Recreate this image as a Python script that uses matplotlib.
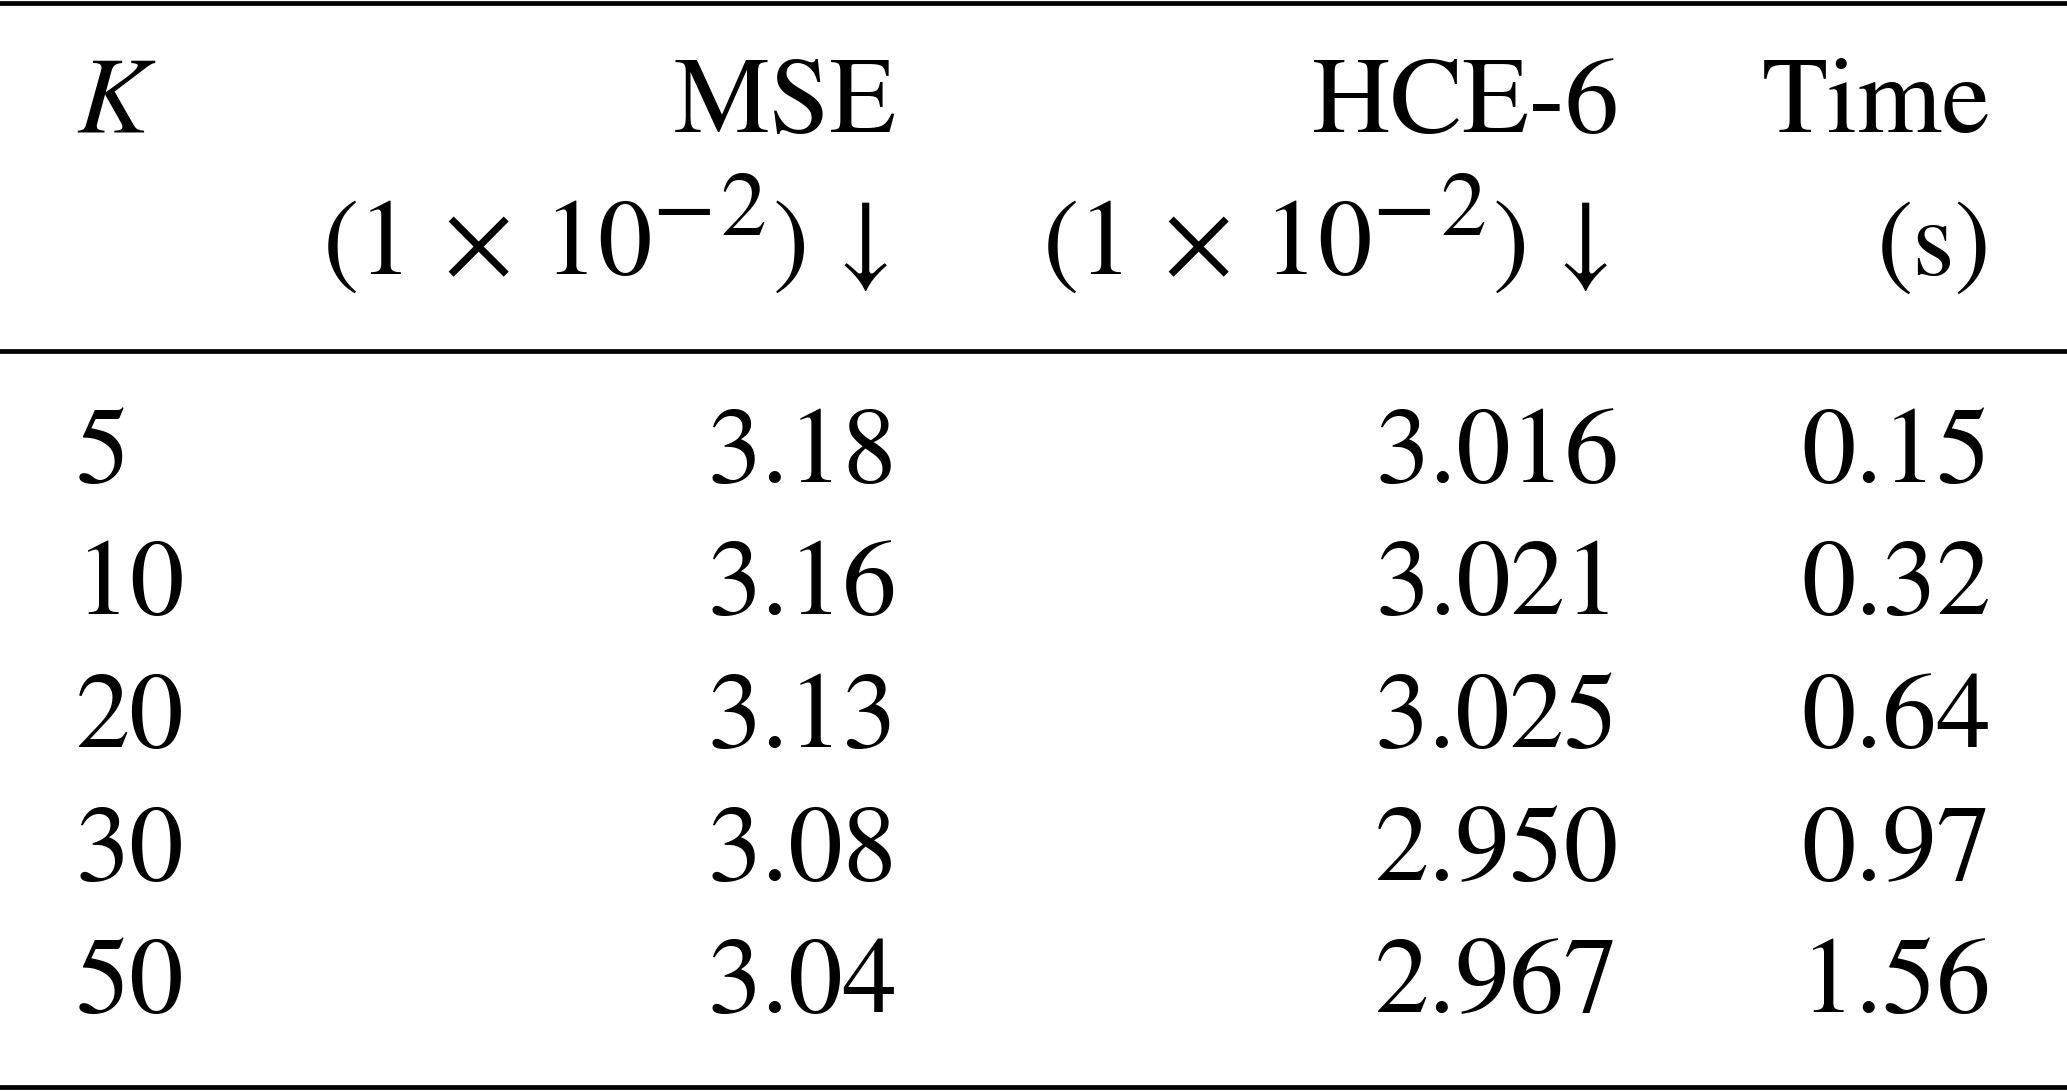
import matplotlib
matplotlib.use("Agg")
import matplotlib.pyplot as plt

plt.rcParams["font.family"] = ["STIXGeneral", "Liberation Serif", "DejaVu Serif"]
plt.rcParams["mathtext.fontset"] = "stix"

# table data
k_values = [5, 10, 20, 30, 50]
mse = [3.18, 3.16, 3.13, 3.08, 3.04]
hce6 = [3.016, 3.021, 3.025, 2.950, 2.967]
time_s = [0.15, 0.32, 0.64, 0.97, 1.56]

header_top = ["$K$", "MSE", "HCE-6", "Time"]

W, H = 2067, 1092
fig = plt.figure(figsize=(W / 100, H / 100), dpi=100)
ax = fig.add_axes([0, 0, 1, 1])
ax.set_xlim(0, W)
ax.set_ylim(H, 0)
ax.axis("off")

fs = 78
fs_sup = 66
col_x = [76, 897, 1619, 1991]
col_ha = ["left", "right", "right", "right"]
renderer = fig.canvas.get_renderer()


def draw_pieces(x_right, y, pieces):
    # lay out (text, size, rise, gap) pieces left to right, ending at x_right
    arts = []
    for s, size, rise, gap in pieces:
        t = ax.text(0, y - rise, s, fontsize=size, va="baseline", ha="left")
        arts.append((t, t.get_window_extent(renderer).width, gap))
    x = x_right - sum(w + g for _, w, g in arts)
    for t, w, g in arts:
        x += g
        t.set_x(x)
        x += w


unit_pieces = [
    ("(1", fs, 0, 0),
    ("\u00d7", fs, 0, 30),
    ("10", fs, 0, 31),
    ("\u2212", fs_sup, 39, 0),
    ("2", fs_sup, 39, 6),
    (")", fs, 0, 6),
    ("\u2193", fs, 0, 29),
]

# rules
for y in [3, 351, 1087]:
    ax.axhline(y, color="black", lw=3.4)

# header
for x, ha, t1 in zip(col_x, col_ha, header_top):
    ax.text(x, 132, t1, fontsize=fs, ha=ha, va="baseline")
draw_pieces(col_x[1] - 4, 274, unit_pieces)
draw_pieces(col_x[2] - 6, 274, unit_pieces)
ax.text(col_x[3], 275, "(s)", fontsize=fs, ha="right", va="baseline")

# body rows
row_y = [482, 614.5, 747, 879.5, 1012]
for y, k, m, h, t in zip(row_y, k_values, mse, hce6, time_s):
    cells = [str(k), f"{m:.2f}", f"{h:.3f}", f"{t:.2f}"]
    for x, ha, c in zip(col_x, col_ha, cells):
        ax.text(x, y, c, fontsize=fs, ha=ha, va="baseline")

fig.savefig("out.png", dpi=100, facecolor="white")
